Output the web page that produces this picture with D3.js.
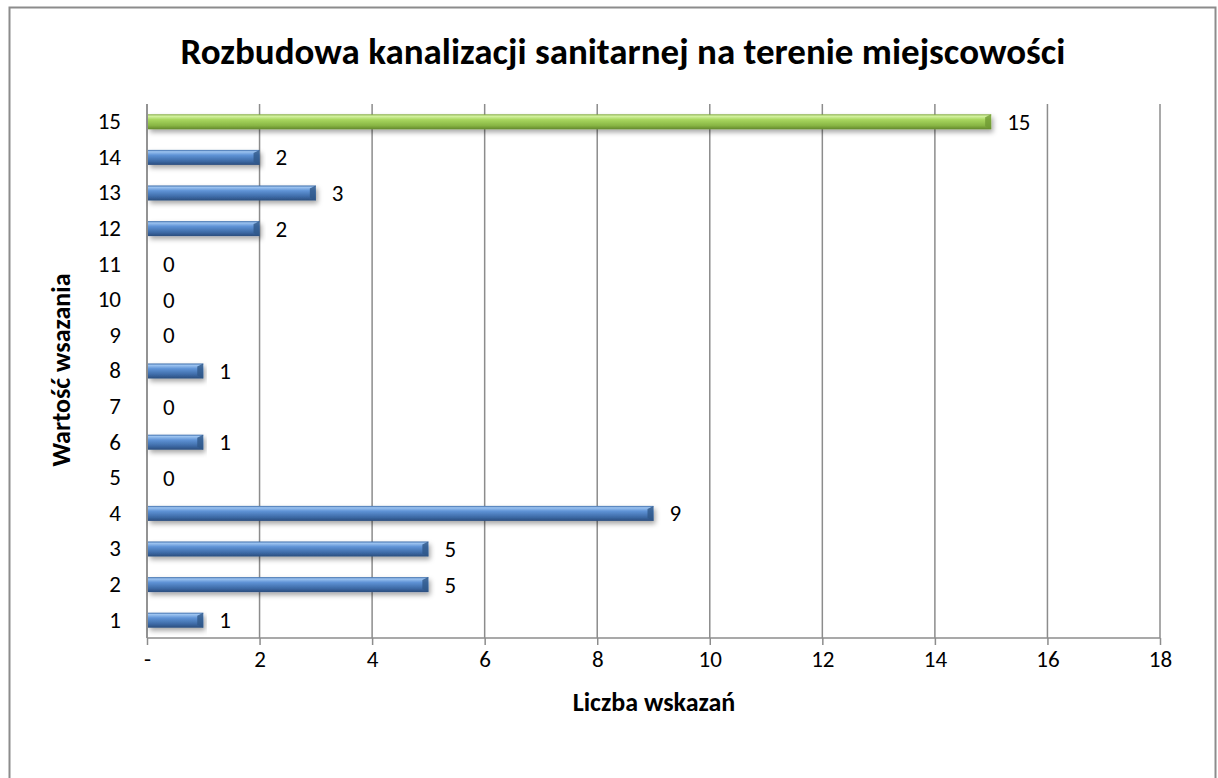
<!DOCTYPE html>
<html>
<head>
<meta charset="utf-8">
<style>
	body { margin: 0; background: #fff; }
	svg text { font-family: Carlito, Calibri, Lato, "Open Sans", sans-serif; fill: #000; }
	.grid line { stroke: #8c8c8c; stroke-width: 1.5px; }
	.axis path, .axis line { stroke: #8c8c8c; stroke-width: 1.5px; }
	.axis text { font-size: 23px; }
</style>
<script src="https://d3js.org/d3.v7.min.js"></script>
</head>
<body>
<script>
	var categories = ["1","2","3","4","5","6","7","8","9","10","11","12","13","14","15"];
	var counts     = [1, 5, 5, 9, 0, 1, 0, 1, 0, 0, 0, 2, 3, 2, 15];
	var xTicks     = [0, 2, 4, 6, 8, 10, 12, 14, 16, 18];
	var highlight  = "15";

	var width = 1218, height = 778;
	var plotL = 147, plotR = 1160, plotT = 104, plotB = 638;

	var svg = d3.select("body").append("svg")
		.attr("width", width)
		.attr("height", height);

	var defs = svg.append("defs");
	function grad(id, stops) {
		var g = defs.append("linearGradient").attr("id", id)
			.attr("x1", 0).attr("y1", 0).attr("x2", 0).attr("y2", 1);
		stops.forEach(function(s){ g.append("stop").attr("offset", s[0]).attr("stop-color", s[1]); });
	}
	grad("blue", [[0,"#3a6aa8"],[0.12,"#9cc3f0"],[0.35,"#5f93d6"],[0.75,"#3d6aa6"],[1,"#2a4d7d"]]);
	grad("green", [[0,"#7da83a"],[0.12,"#d6f3a4"],[0.35,"#a9d760"],[0.75,"#88b544"],[1,"#62872c"]]);
	var f = defs.append("filter").attr("id", "shadow")
		.attr("x", "-5%").attr("y", "-50%").attr("width", "110%").attr("height", "220%");
	f.append("feDropShadow").attr("dx", 2).attr("dy", 3).attr("stdDeviation", 2.5)
		.attr("flood-color", "#000").attr("flood-opacity", 0.35);

	// outer border
	svg.append("rect")
		.attr("x", 9.5).attr("y", 7.5)
		.attr("width", 1206).attr("height", 780)
		.attr("fill", "none").attr("stroke", "#8c8c8c").attr("stroke-width", 2);

	var x = d3.scaleLinear().domain([0, 18]).range([plotL, plotR]);
	var y = d3.scaleBand().domain(categories.slice().reverse()).range([plotT, plotB]);

	// vertical gridlines
	svg.append("g").attr("class", "grid")
		.selectAll("line").data(xTicks).enter().append("line")
		.attr("x1", function(d){ return x(d); })
		.attr("x2", function(d){ return x(d); })
		.attr("y1", plotT).attr("y2", plotB);

	var xAxis = d3.axisBottom(x).tickValues(xTicks).tickSize(7).tickPadding(6)
		.tickFormat(function(d){ return d === 0 ? "-" : d; });
	svg.append("g").attr("class", "x axis")
		.attr("transform", "translate(0," + plotB + ")")
		.call(xAxis)
		.call(function(g){ g.select(".domain").attr("d", "M" + plotL + ",0H" + plotR); });

	var yAxis = d3.axisLeft(y).tickSize(0).tickPadding(26);
	svg.append("g").attr("class", "y axis")
		.attr("transform", "translate(" + plotL + ",0)")
		.call(yAxis)
		.call(function(g){ g.select(".domain").attr("d", "M0," + plotT + "V" + plotB); });

	var data = categories.map(function(c, i){ return {cat: c, v: counts[i]}; });
	var barH = 15;

	var bars = svg.append("g").selectAll("g").data(data).enter().append("g")
		.attr("transform", function(d){ return "translate(0," + (y(d.cat) + y.bandwidth()/2 - barH/2) + ")"; });

	bars.filter(function(d){ return d.v > 0; }).append("rect")
		.attr("x", plotL + 1)
		.attr("width", function(d){ return x(d.v) - plotL - 1; })
		.attr("height", barH)
		.attr("filter", "url(#shadow)")
		.attr("fill", function(d){ return d.cat === highlight ? "url(#green)" : "url(#blue)"; });

	// bevel on bar end
	bars.filter(function(d){ return d.v > 0; }).append("path")
		.attr("d", function(d){
			var e = x(d.v);
			return "M" + (e - 6) + "," + (barH - 3) + "L" + e + "," + barH + "L" + e + ",0L" + (e - 6) + ",3Z";
		})
		.attr("fill", function(d){ return d.cat === highlight ? "#6f9a33" : "#2f5788"; })
		.attr("opacity", 0.8);

	bars.append("text")
		.attr("x", function(d){ return x(d.v) + 16; })
		.attr("y", barH / 2)
		.attr("dy", "0.35em")
		.style("font-size", "23px")
		.text(function(d){ return d.v; });

	svg.append("text")
		.attr("x", 623).attr("y", 64)
		.attr("text-anchor", "middle")
		.style("font-size", "37px").style("font-weight", "bold")
		.text("Rozbudowa kanalizacji sanitarnej na terenie miejscowości");

	svg.append("text")
		.attr("x", 654).attr("y", 711)
		.attr("text-anchor", "middle")
		.style("font-size", "26px").style("font-weight", "bold")
		.text("Liczba wskazań");

	svg.append("text")
		.attr("transform", "translate(70,370) rotate(-90)")
		.attr("text-anchor", "middle")
		.style("font-size", "26px").style("font-weight", "bold")
		.text("Wartość wsazania");
</script>
</body>
</html>
